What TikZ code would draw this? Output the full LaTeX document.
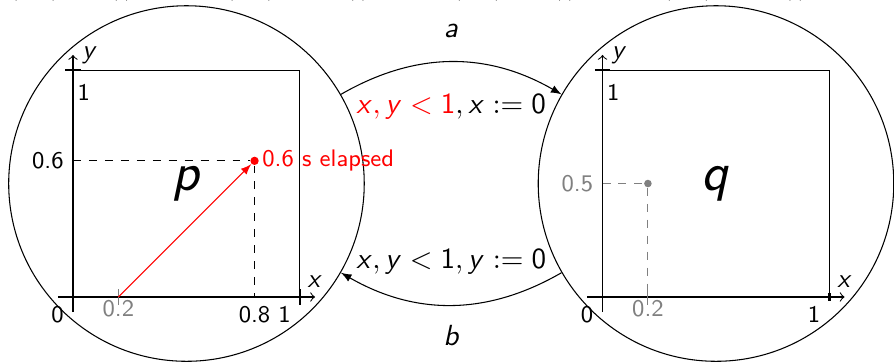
\documentclass[tikz,border=0pt]{standalone}
\renewcommand{\familydefault}{\sfdefault}
\DeclareMathAlphabet{\mathsfit}{OT1}{cmss}{m}{sl}
\DeclareMathAlphabet{\mathsfup}{OT1}{cmss}{m}{n}
\newcommand{\mv}[1]{\mathsfit{#1}}
\newcommand{\mn}[1]{\mathsfup{#1}}
\usetikzlibrary{positioning}

\begin{document}
\begin{tikzpicture}[
  state/.style={circle, draw, minimum size=4.7cm, inner sep=0pt, font=\huge},
  trans/.style={-latex},
  guard/.style={font=\fontsize{10.9}{13}\selectfont},
  axis/.style={->},
  tickmark/.style={line width=1pt},
  ticklbl/.style={font=\small},
  faint/.style={gray},
  guide/.style={dashed},
  dot/.style={circle, inner sep=0pt, minimum size=1.1mm}
]
\useasboundingbox (-0.965,-0.859) rectangle (10.853,3.926);

\node[anchor=base] (c1) at (-0.02,4.0) {$(\mv{p},(\mn{0.2},\mn{0}))$};
\node[anchor=base] (c2) at (2.97,4.0) {$(\mv{p},(\mn{0.8},\mn{0.6}))$};
\node[anchor=base] (c3) at (5.84,4.0) {$(\mv{q},(\mn{0},\mn{0.6}))$};
\node[anchor=base] (c4) at (8.75,4.0) {$(\mv{q},(\mn{0.2},\mn{0.5}))$};

\node[state] (p) at (1.5,1.5) {$\mv{p}$};
\node[state] (q) at (8.5,1.5) {$\mv{q}$};

\draw[trans] (p) to[bend left=30] node[guard, below=3mm] (ga) {{\color{red}$\mv{x}, \mv{y} < \mn{1}$}$,\mv{x} := \mn{0}$} node[guard, above=2mm] (la) {$\mv{a}$} (q);
\draw[trans] (q) to[bend left=30] node[guard, above=2.8mm] (gb) {$\mv{x}, \mv{y} < \mn{1}, \mv{y} := \mn{0}$} node[guard, below=1.4mm] (lb) {$\mv{b}$} (p);

\foreach \ox/\nm/\tl in {0/p/0.1, 7/q/0.05} {
  \begin{scope}[xshift=\ox cm]
    \draw[axis] (-0.2,0) -- (3.2,0) node[above] (x\nm) {$\mv{x}$};
    \draw[axis] (0,-0.2) -- (0,3.2) node[right] (y\nm) {$\mv{y}$};
    \draw (0,3) -- (3,3) -- (3,0);
    \draw[tickmark] (-0.1,3) -- (0.1,3);
    \draw[tickmark] (3,-\tl) -- (3,\tl);
    \draw[faint] (0.6,-0.1) -- (0.6,0.1);
    \node[ticklbl, anchor=north west, inner sep=1pt] (ya\nm) at (0.02,2.86) {1};
    \node[ticklbl, below left] (xa\nm) at (3,0) {1};
    \node[ticklbl, below left] (o\nm) at (0,0) {0};
    \node[ticklbl, faint, inner sep=1pt] (z\nm) at (0.6,-0.16) {0.2};
  \end{scope}
}

\node[dot, fill=red] (dp) at (2.4,1.8) {};
\draw[guide] (0,1.8) -- (dp) -- (2.4,0);
\draw[red, -latex] (0.6,0) -- (dp);
\node[ticklbl, red, right, inner sep=1pt] (el) at (dp.east) {0.6 s elapsed};
\node[ticklbl, left] (sp) at (0,1.8) {0.6};
\node[ticklbl, below] (ep) at (2.4,0) {0.8};

\node[dot, fill=gray, minimum size=1mm] (dq) at (7.6,1.5) {};
\draw[guide, faint] (7,1.5) -- (dq) -- (7.6,0);
\node[ticklbl, faint, left] (sq) at (7,1.5) {0.5};
\end{tikzpicture}
\end{document}
